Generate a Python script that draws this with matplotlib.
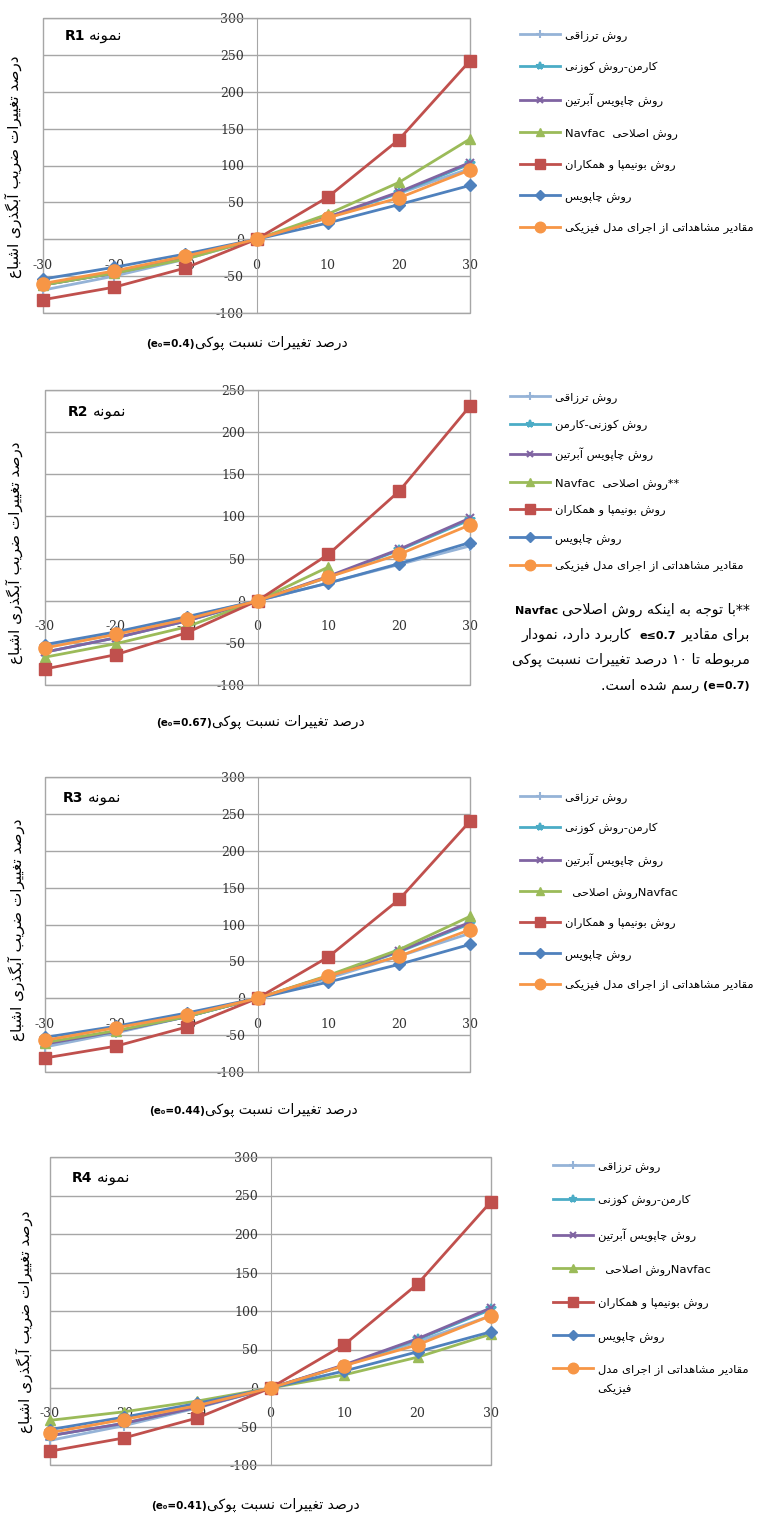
import re
import matplotlib
matplotlib.use("Agg")
import matplotlib.pyplot as plt
from matplotlib.patches import Rectangle

plt.rcParams['font.family'] = ['DejaVu Sans']
plt.rcParams['axes.unicode_minus'] = False

# percent change of void ratio (x axis)
x_pct = [-30, -20, -10, 0, 10, 20, 30]
x_navfac_r2 = [-30, -20, -10, 0, 10]

# sample R1 (e0 = 0.4)
r1_terzaghi = [-69, -50, -27, 0, 30, 62, 96]
r1_kozeny = [-62, -46, -25, 0, 29, 63, 102]
r1_chap_aub = [-62, -46, -25, 0, 30, 64, 104]
r1_navfac = [-62, -46, -27, 0, 34, 77, 136]
r1_mbonimpa = [-82, -65, -39, 0, 57, 135, 242]
r1_chapuis = [-54, -38, -20, 0, 22, 47, 73]
r1_observed = [-60, -43, -23, 0, 29, 56, 94]

# sample R2 (e0 = 0.67), navfac only up to +10%
r2_terzaghi = [-55, -38, -20, 0, 21, 43, 65]
r2_kozeny = [-61, -44, -24, 0, 28, 60, 96]
r2_chap_aub = [-61, -44, -24, 0, 29, 61, 98]
r2_navfac = [-67, -51, -31, 0, 40]
r2_mbonimpa = [-81, -64, -38, 0, 55, 130, 231]
r2_chapuis = [-52, -37, -19, 0, 21, 44, 69]
r2_observed = [-56, -40, -22, 0, 28, 55, 90]

# sample R3 (e0 = 0.44)
r3_terzaghi = [-66, -47, -25, 0, 27, 57, 88]
r3_kozeny = [-62, -45, -25, 0, 29, 63, 101]
r3_chap_aub = [-62, -45, -25, 0, 30, 64, 103]
r3_navfac = [-60, -44, -25, 0, 31, 66, 111]
r3_mbonimpa = [-81, -65, -39, 0, 56, 134, 240]
r3_chapuis = [-53, -38, -20, 0, 22, 46, 73]
r3_observed = [-57, -40, -23, 0, 30, 57, 93]

# sample R4 (e0 = 0.41)
r4_terzaghi = [-68, -49, -26, 0, 29, 60, 94]
r4_kozeny = [-62, -46, -25, 0, 29, 63, 102]
r4_chap_aub = [-62, -46, -25, 0, 30, 64, 104]
r4_navfac = [-42, -31, -17, 0, 17, 40, 70]
r4_mbonimpa = [-82, -65, -39, 0, 56, 135, 242]
r4_chapuis = [-54, -38, -20, 0, 22, 47, 73]
r4_observed = [-58, -41, -23, 0, 29, 56, 94]

samples = ["R1", "R2", "R3", "R4"]
e0_values = ["0.4", "0.67", "0.44", "0.41"]
y_max = [300, 250, 300, 300]

lab_terzaghi = "روش ترزاقی"
lab_kozeny_a = "کارمن-روش کوزنی"
lab_kozeny_b = "روش کوزنی-کارمن"
lab_chap_aub = "روش چاپویس آبرتین"
lab_navfac = ["روش اصلاحی  Navfac", "**روش اصلاحی  Navfac",
              "Navfacروش اصلاحی  ", "Navfacروش اصلاحی  "]
lab_mbonimpa = "روش بونیمپا و همکاران"
lab_chapuis = "روش چاپویس"
lab_observed = "مقادیر مشاهداتی از اجرای مدل فیزیکی"
lab_observed_r4 = "مقادیر مشاهداتی از اجرای مدل"
lab_observed_r4_wrap = "فیزیکی"

title_word = "نمونه"
xlabel_fa = "درصد تغییرات نسبت پوکی"
ylabel_fa = "درصد تغییرات ضریب آبگذری اشباع"


# --- minimal persian shaping (matplotlib has no complex text layout) ---
JOIN = {
    'آ': (0xFE81, False), 'ا': (0xFE8D, False), 'ب': (0xFE8F, True),
    'پ': (0xFB56, True), 'ت': (0xFE95, True), 'ث': (0xFE99, True),
    'ج': (0xFE9D, True), 'چ': (0xFB7A, True), 'ح': (0xFEA1, True),
    'خ': (0xFEA5, True), 'د': (0xFEA9, False), 'ذ': (0xFEAB, False),
    'ر': (0xFEAD, False), 'ز': (0xFEAF, False), 'ژ': (0xFB8A, False),
    'س': (0xFEB1, True), 'ش': (0xFEB5, True), 'ص': (0xFEB9, True),
    'ض': (0xFEBD, True), 'ط': (0xFEC1, True), 'ظ': (0xFEC5, True),
    'ع': (0xFEC9, True), 'غ': (0xFECD, True), 'ف': (0xFED1, True),
    'ق': (0xFED5, True), 'ک': (0xFB8E, True), 'گ': (0xFB92, True),
    'ل': (0xFEDD, True), 'م': (0xFEE1, True), 'ن': (0xFEE5, True),
    'ه': (0xFEE9, True), 'و': (0xFEED, False), 'ی': (0xFBFC, True),
    'ئ': (0xFE89, True),
}
MIRROR = str.maketrans("()[]", ")(][")
LTR = r'[0-9۰-۹A-Za-z][0-9۰-۹A-Za-z.=≤₀]*'


def shape(s):
    out = []
    i = 0
    while i < len(s):
        c = s[i]
        if c not in JOIN:
            out.append(c)
            i += 1
            continue
        prev = s[i - 1] if i > 0 else ''
        linked_prev = prev in JOIN and JOIN[prev][1]
        if c == 'ل' and i + 1 < len(s) and s[i + 1] in 'اآ':
            base = 0xFEFB if s[i + 1] == 'ا' else 0xFEF5
            out.append(chr(base + (1 if linked_prev else 0)))
            i += 2
            continue
        nxt = s[i + 1] if i + 1 < len(s) else ''
        linked_next = JOIN[c][1] and nxt in JOIN
        if linked_prev and linked_next:
            f = 3
        elif linked_prev:
            f = 1
        elif linked_next:
            f = 2
        else:
            f = 0
        out.append(chr(JOIN[c][0] + f))
        i += 1
    return ''.join(out)


def fa(s):
    parts = re.split('(' + LTR + ')', shape(s))
    vis = []
    for p in parts[::-1]:
        if re.fullmatch(LTR, p):
            vis.append(p)
        else:
            vis.append(p[::-1].translate(MIRROR))
    return ''.join(vis)


W, H = 758, 1515
fig = plt.figure(figsize=(W / 100, H / 100), dpi=100)

# plot areas in pixels: left, top, right, bottom
boxes = [(43, 18, 470, 313), (45, 390, 470, 685),
         (45, 777, 470, 1072), (50, 1157, 491, 1465)]
legend_at = [(520, 30, 1.8), (510, 392, 1.44), (520, 792, 1.72), (553, 1161, 1.95)]
title_pos = [(0.05, 0.925), (0.054, 0.912), (0.042, 0.915), (0.05, 0.92)]
xlabel_at = [(195, 347), (212, 726), (205, 1114), (207, 1509)]
ylabel_at = [(13, 167), (14, 553), (16, 930), (24, 1322)]

colors = ['#95B3D7', '#4BACC6', '#8064A2', '#9BBB59', '#C0504D', '#4F81BD', '#F79646']
markers = ['+', '*', 'x', '^', 's', 'D', 'o']
msizes = [7, 7, 6, 7.5, 9, 6, 9.5]
grey = '#a6a6a6'
leg_fs = 8.25

all_series = [
    [r1_terzaghi, r1_kozeny, r1_chap_aub, r1_navfac, r1_mbonimpa, r1_chapuis, r1_observed],
    [r2_terzaghi, r2_kozeny, r2_chap_aub, r2_navfac, r2_mbonimpa, r2_chapuis, r2_observed],
    [r3_terzaghi, r3_kozeny, r3_chap_aub, r3_navfac, r3_mbonimpa, r3_chapuis, r3_observed],
    [r4_terzaghi, r4_kozeny, r4_chap_aub, r4_navfac, r4_mbonimpa, r4_chapuis, r4_observed],
]

for k in range(4):
    l, t, r, b = boxes[k]
    ax = fig.add_axes([l / W, 1 - b / H, (r - l) / W, (b - t) / H])
    ax.set_xlim(-30, 30)
    ax.set_ylim(-100, y_max[k])
    ax.set_xticks(x_pct)
    ax.set_yticks(range(-100, y_max[k] + 1, 50))
    ax.spines['top'].set_visible(False)
    ax.spines['right'].set_visible(False)
    for side in ['left', 'bottom']:
        ax.spines[side].set_position(('data', 0))
        ax.spines[side].set_color(grey)
        ax.spines[side].set_zorder(1)
    ax.add_patch(Rectangle((0, 0), 1, 1, transform=ax.transAxes, fill=False,
                           ec=grey, lw=1, clip_on=False, zorder=1))
    ax.yaxis.grid(True, color=grey, lw=1)
    ax.set_axisbelow(True)
    ax.tick_params(axis='x', length=0, pad=14)
    ax.tick_params(axis='y', length=0, pad=9)
    ax.tick_params(labelsize=9, labelcolor='#333333', labelfontfamily='DejaVu Serif')

    labels = [lab_terzaghi, lab_kozeny_b if k == 1 else lab_kozeny_a, lab_chap_aub,
              lab_navfac[k], lab_mbonimpa, lab_chapuis,
              lab_observed_r4 if k == 3 else lab_observed]
    for j, ys in enumerate(all_series[k]):
        xs = x_navfac_r2 if len(ys) == 5 else x_pct
        ax.plot(xs, ys, color=colors[j], marker=markers[j], ms=msizes[j], lw=2,
                mew=1.5 if markers[j] in '+x*' else 1, clip_on=False, zorder=3 + j,
                label=fa(labels[j]))

    lx, ly, sp = legend_at[k]
    leg = ax.legend(loc='upper left', bbox_to_anchor=(lx / W, 1 - ly / H),
                    bbox_transform=fig.transFigure, frameon=False, fontsize=leg_fs,
                    handlelength=3.5, handletextpad=0.4, labelspacing=sp,
                    borderpad=0, borderaxespad=0, numpoints=1, markerscale=0.8)
    if k == 3:
        # second line of the wrapped last legend entry (drawn after the legend)
        ax.annotate(fa(lab_observed_r4_wrap), xy=(0, 0), xycoords=leg.get_texts()[6],
                    xytext=(0, -6), textcoords='offset points', fontsize=leg_fs,
                    ha='left', va='top', annotation_clip=False, zorder=20)

    # title inside the plot area
    tx, ty = title_pos[k]
    rt = ax.text(tx, ty, samples[k], transform=ax.transAxes, fontsize=10,
                 fontweight='bold', ha='left', va='baseline')
    ax.annotate(fa(title_word), xy=(1, ty), xycoords=(rt, ax.transAxes),
                xytext=(3, 0), textcoords='offset points', fontsize=11,
                ha='left', va='baseline')

    # x axis title: bold (e0=..) on the left, persian on the right
    bx, by = xlabel_at[k]
    fig.text(bx / W, 1 - by / H, fa(xlabel_fa), fontsize=10, ha='left', va='baseline')
    fig.text(bx / W, 1 - by / H, "(e₀=" + e0_values[k] + ")", fontsize=7.5,
             fontweight='bold', ha='right', va='baseline')

    yx, yy = ylabel_at[k]
    fig.text(yx / W, 1 - yy / H, fa(ylabel_fa), fontsize=11, rotation=90,
             ha='center', va='center')

# note under the R2 legend
note_fs = 10.2
note_right = 750 / W
note_y = [614, 639, 664, 689]
y0 = 1 - note_y[0] / H
a = fig.text(note_right, y0, fa("**با توجه به اینکه روش اصلاحی"), fontsize=note_fs,
             ha='right', va='baseline')
plt.annotate("Navfac", xy=(0, y0), xycoords=(a, 'figure fraction'), xytext=(-3, 0),
             textcoords='offset points', fontsize=8, fontweight='bold',
             ha='right', va='baseline', annotation_clip=False)

y1 = 1 - note_y[1] / H
a = fig.text(note_right, y1, fa("برای مقادیر"), fontsize=note_fs, ha='right', va='baseline')
bld = plt.annotate("e≤0.7", xy=(0, y1), xycoords=(a, 'figure fraction'), xytext=(-4, 0),
                   textcoords='offset points', fontsize=8, fontweight='bold',
                   ha='right', va='baseline', annotation_clip=False)
plt.annotate(fa("کاربرد دارد، نمودار"), xy=(0, y1), xycoords=(bld, 'figure fraction'),
             xytext=(-6, 0), textcoords='offset points', fontsize=note_fs,
             ha='right', va='baseline', annotation_clip=False)

y2 = 1 - note_y[2] / H
fig.text(note_right, y2, fa("مربوطه تا ۱۰ درصد تغییرات نسبت پوکی"), fontsize=note_fs,
         ha='right', va='baseline')

y3 = 1 - note_y[3] / H
a = fig.text(note_right, y3, "(e=0.7)", fontsize=8, fontweight='bold',
             ha='right', va='baseline')
plt.annotate(fa("رسم شده است."), xy=(0, y3), xycoords=(a, 'figure fraction'),
             xytext=(-3, 0), textcoords='offset points', fontsize=note_fs,
             ha='right', va='baseline', annotation_clip=False)

fig.savefig("out.png", dpi=100)
